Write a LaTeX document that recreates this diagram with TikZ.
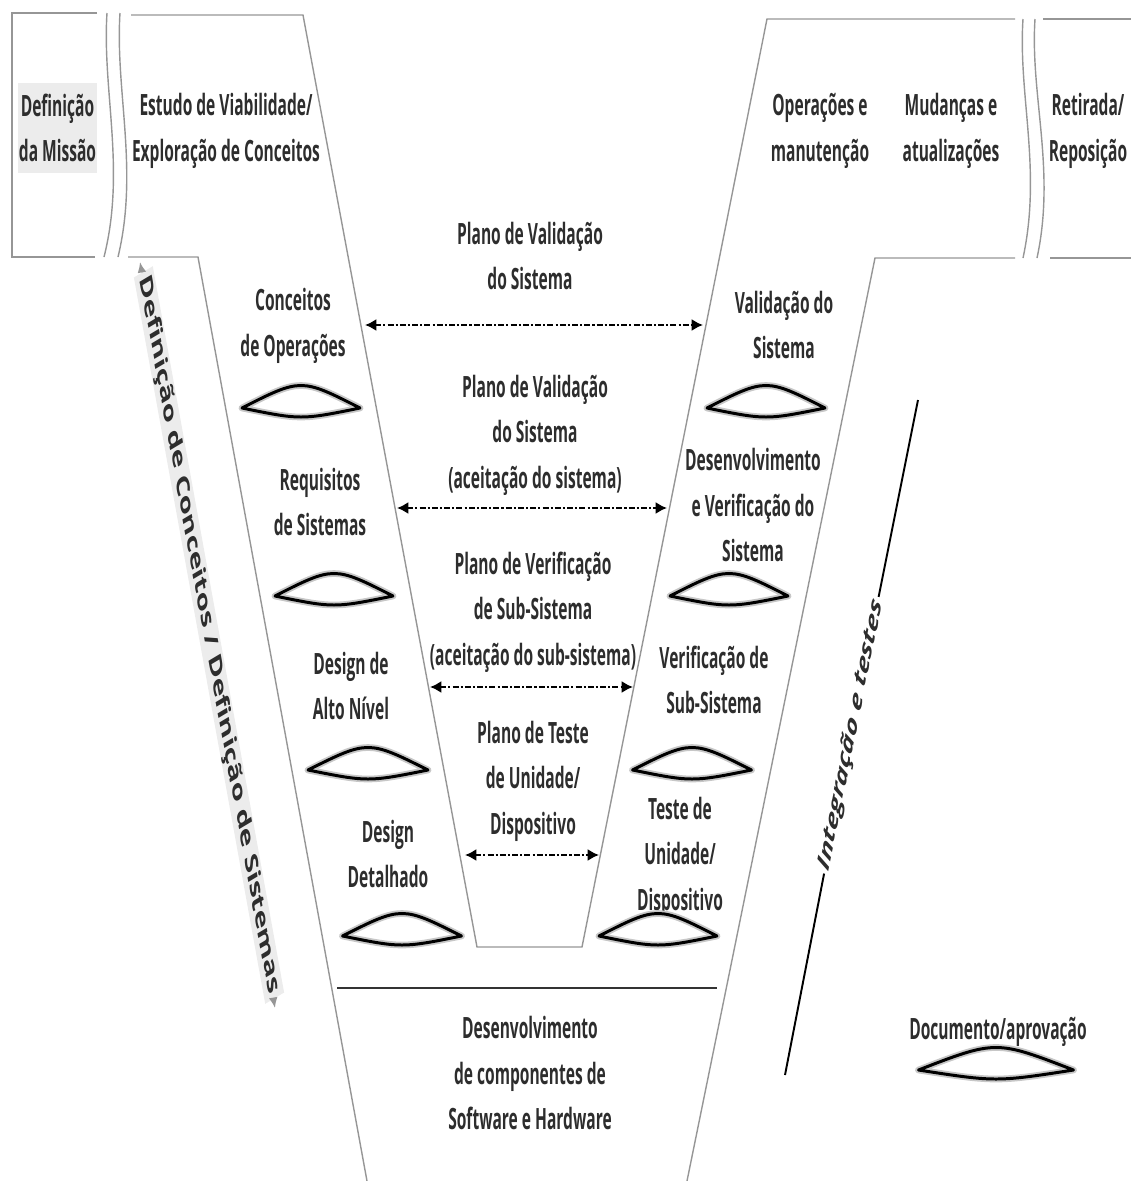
\documentclass[tikz,border=0pt]{standalone}
\usepackage{fontspec}
\usepackage{tikz}
\usetikzlibrary{arrows.meta}
\setmainfont{Open Sans}
\newfontfamily\narrowfont{Open Sans}[FakeStretch=0.53]
\definecolor{linegray}{RGB}{150,150,150}
\definecolor{txtgray}{RGB}{45,45,45}
\definecolor{bandgray}{RGB}{236,236,236}
% lens mark: x of centre, y of tips, width
\newcommand{\docmark}[3]{%
  \draw[black!22,line width=3.8pt,line join=round] (#1-#3/2,#2) .. controls (#1,#2-30) .. (#1+#3/2,#2) .. controls (#1,#2+12) .. cycle;
  \draw[black,line width=1.7pt,line join=round] (#1-#3/2,#2) .. controls (#1,#2-30) .. (#1+#3/2,#2) .. controls (#1,#2+12) .. cycle;}

\begin{document}
\begin{tikzpicture}[x=0.02cm,y=-0.02cm,
    vline/.style={draw=linegray,line width=0.8pt},
    lbl/.style={font=\narrowfont\bfseries\fontsize{16.7}{25.9}\selectfont,text=txtgray,align=center,inner sep=0pt},
    planarrow/.style={{Latex[length=6.5pt,width=7pt]}-{Latex[length=6.5pt,width=7pt]},line width=1.5pt,dash pattern=on 3.4pt off 1.2pt on 1.2pt off 1.2pt}]
  \useasboundingbox (0,0) rectangle (1131,1181);

  % frame of the V
  \draw[vline] (97,13) -- (12,13) -- (12,257) -- (95,257);
  \draw[vline] (107,13) .. controls (102,90) and (126,170) .. (104,257);
  \draw[vline] (120,13) .. controls (115,90) and (139,170) .. (118,257);
  \draw[vline] (131,15) -- (303,15) -- (477,947) -- (582,947) -- (767,19) -- (1015,19);
  \draw[vline] (128,257) -- (198,257) -- (367,1181);
  \draw[vline] (1015,258) -- (875,258) -- (687,1181);
  \draw[vline] (1023,19) .. controls (1018,95) and (1042,170) .. (1023,258);
  \draw[vline] (1035,19) .. controls (1030,95) and (1056,170) .. (1037,258);
  \draw[vline] (1043,19) -- (1131,19);
  \draw[vline] (1050,258) -- (1131,258);
  \draw[black!80,line width=1.1pt] (337,988) -- (717,988);

  % top row
  \node[lbl,fill=bandgray,minimum width=1.58cm,minimum height=1.82cm] (missao) at (57.5,128) {Definição\\da Missão};
  \node[lbl] (estudo) at (226,131) {Estudo de Viabilidade/\\Exploração de Conceitos};
  \node[lbl] (operacoes) at (820,131) {Operações e\\manutenção};
  \node[lbl] (mudancas) at (951,131) {Mudanças e\\atualizações};
  \node[lbl] (retirada) at (1088,131) {Retirada/\\Reposição};

  % left arm
  \node[lbl] (conceitos) at (293,326) {Conceitos\\de Operações};
  \node[lbl] (requisitos) at (320,502) {Requisitos\\de Sistemas};
  \node[lbl] (designalto) at (351,686) {Design de\\Alto Nível};
  \node[lbl] (designdet) at (388,854) {Design\\Detalhado};

  % right arm
  \node[lbl] (validacao) at (784,325) {Validação do\\Sistema};
  \node[lbl] (desenvsis) at (753,505) {Desenvolvimento\\e Verificação do\\Sistema};
  \node[lbl] (verifsub) at (714,680) {Verificação de\\Sub-Sistema};
  \node[lbl] (testeunid) at (680,857) {Teste de\\Unidade/\\Dispositivo};

  % plans in the middle
  \node[lbl] (planoval) at (530,256) {Plano de Validação\\do Sistema};
  \node[lbl] (planovalsis) at (535,435) {Plano de Validação\\do Sistema\\(aceitação do sistema)};
  \node[lbl] (planoverif) at (533,612) {Plano de Verificação\\de Sub-Sistema\\(aceitação do sub-sistema)};
  \node[lbl] (planoteste) at (533,781) {Plano de Teste\\de Unidade/\\Dispositivo};
  \node[lbl] (desenvcomp) at (530,1073) {Desenvolvimento\\de componentes de\\Software e Hardware};

  \coordinate (a1l) at (365,325);
  \coordinate (a1r) at (703,325);
  \coordinate (a2l) at (397,508);
  \coordinate (a2r) at (667,508);
  \coordinate (a3l) at (430,687);
  \coordinate (a3r) at (633,687);
  \coordinate (a4l) at (465,855);
  \coordinate (a4r) at (599,855);
  \draw[planarrow] (a1l) -- (a1r);
  \draw[planarrow] (a2l) -- (a2r);
  \draw[planarrow] (a3l) -- (a3r);
  \draw[planarrow] (a4l) -- (a4r);

  % documents
  \docmark{301}{408}{118}
  \docmark{766}{408}{118}
  \docmark{334}{596}{118}
  \docmark{729}{596}{118}
  \docmark{368}{770}{120}
  \docmark{692}{770}{119}
  \docmark{402}{936}{119}
  \docmark{658}{936}{118}
  \docmark{996}{1070}{155}
  \node[lbl] (docapr) at (998,1032) {Documento/aprovação};

  % side labels
  \begin{scope}[shift={(209,635)},xscale=0.55,rotate=-71.8]
    \node[transform shape,fill=bandgray,text=txtgray,font=\bfseries\fontsize{18.5}{22}\selectfont,inner xsep=3pt,inner ysep=1pt] (defconc) {Definição de Conceitos / Definição de Sistemas};
  \end{scope}
  \coordinate (dtop) at (140,262);
  \coordinate (dbot) at (275,1008);
  \draw[linegray,line width=1pt,-{Latex[length=6pt,width=5pt]}] (defconc) -- (dtop);
  \draw[linegray,line width=1pt,-{Latex[length=6pt,width=5pt]}] (defconc) -- (dbot);

  \begin{scope}[shift={(851,735)},xscale=0.55,rotate=70]
    \node[transform shape,text=txtgray,font=\bfseries\itshape\fontsize{18}{22}\selectfont,inner xsep=2pt,inner ysep=1pt] (integ) {Integração e testes};
  \end{scope}
  \coordinate (itop) at (918,400);
  \coordinate (ibot) at (785,1075);
  \draw[black,line width=1.1pt] (integ) -- (itop);
  \draw[black,line width=1.1pt] (integ) -- (ibot);
\end{tikzpicture}
\end{document}
